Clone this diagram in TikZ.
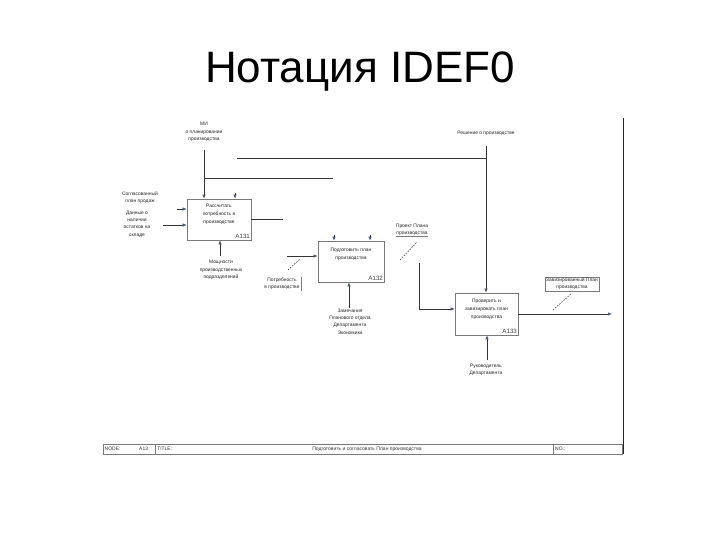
\documentclass[tikz,border=0pt]{standalone}
\usepackage{fontspec}
\setmainfont{Liberation Sans}
\usetikzlibrary{arrows.meta}
\definecolor{tipc}{HTML}{45557A}
\definecolor{boxc}{HTML}{7A7A7A}
\begin{document}
\begin{tikzpicture}[x=1pt,y=-1pt,
  func/.style={draw=boxc,line width=.6pt,minimum width=64pt,minimum height=41pt,
    inner sep=0pt,align=center,font=\fontsize{4.9}{8}\selectfont,text=black!85},
  num/.style={anchor=south east,inner sep=1.2pt,font=\fontsize{6.2}{7}\selectfont,text=black!75},
  lbl/.style={inner sep=0pt,align=center,font=\fontsize{4.9}{7.3}\selectfont,text=black!85},
  wire/.style={draw=black!80,line width=.55pt},
  flow/.style={wire,-{Latex[length=4pt,width=3.2pt,color=tipc]}},
  squig/.style={draw=black!80,line width=.5pt,dash pattern=on 1.6pt off 1.2pt},
  cell/.style={inner sep=0pt,anchor=west,font=\fontsize{5}{6}\selectfont,text=black!80}]
\useasboundingbox (0,0) rectangle (720,540);
\node[anchor=base,font=\fontsize{44}{50}\selectfont] (title) at (360,83) {Нотация IDEF0};
\node[func] (a131) at (219,219.5) {Рассчитать\\потребность в\\производстве\\[3pt]};
\node[num] (n131) at (a131.south east) {A131};
\node[func,minimum width=66pt] (a132) at (351,261.5) {Подготовить план\\производства\\[8pt]};
\node[num] (n132) at (a132.south east) {A132};
\node[func,minimum width=63pt,minimum height=42pt] (a133) at (486.5,314) {Проверить и\\завизировать план\\производства\\[3pt]};
\node[num] (n133) at (a133.south east) {A133};
\node[lbl] (mi) at (204,132) {МИ\\о планировании\\производства};
\node[lbl] (resh) at (486,133) {Решение о производстве};
\node[lbl] (plan) at (140,198) {Согласованный\\план продаж};
\node[lbl] (ost) at (137,224) {Данные о\\наличии\\остатков на\\складе};
\node[lbl] (mosch) at (221,270) {Мощности\\производственных\\подразделений};
\node[lbl] (potr) at (282,283.5) {Потребность\\в производстве};
\node[lbl] (proj) at (412,230) {Проект Плана\\производства};
\node[lbl] (zam) at (350,321.5) {Замечания\\Планового отдела\\Департамента\\Экономики};
\node[lbl] (ruk) at (486,369.5) {Руководитель\\Департамента};
\node[lbl,draw=boxc,line width=.4pt,inner sep=1.2pt] (zav) at (572,284) {Завизированный План\\производства};
\draw[boxc,line width=.4pt] (potr.north east) ++(1.5,0) -- ++(0,14);
\draw[boxc,line width=.4pt] (proj.south west) -- (proj.south east);
\coordinate (m0) at (204,150);
\coordinate (t1) at (333,178);
\coordinate (r0) at (486,146);
\coordinate (t2) at (237,158);
\coordinate (s1) at (235,193);
\coordinate (i1) at (177,209);
\coordinate (i2) at (163,225);
\coordinate (o1) at (283,219);
\coordinate (m1) at (220,256);
\coordinate (i3) at (287,256);
\coordinate (s2) at (334,235);
\coordinate (s3) at (370,235);
\coordinate (m2) at (349,308);
\coordinate (p0) at (419,263);
\coordinate (p1) at (419,309);
\coordinate (o2) at (612,314);
\coordinate (m3) at (487,360);
\draw[flow] (m0) -- (m0 |- a131.north);
\draw[wire] (m0 |- t1) -- (t1);
\draw[flow] (r0) -- (r0 |- a133.north);
\draw[wire] (t2) -- (t2 -| r0);
\draw[flow] (s1) -- (s1 |- a131.north);
\draw[flow] (i1) -- (i1 -| a131.west);
\draw[flow] (i2) -- (i2 -| a131.west);
\draw[wire] (o1 -| a131.east) -- (o1);
\draw[flow] (m1) -- (m1 |- a131.south);
\draw[flow] (i3) -- (i3 -| a132.west);
\draw[flow] (s2) -- (s2 |- a132.north);
\draw[flow] (s3) -- (s3 |- a132.north);
\draw[flow] (m2) -- (m2 |- a132.south);
\draw[flow] (p0) -- (p1) -- (p1 -| a133.west);
\draw[flow] (a133.east) -- (o2);
\draw[flow] (m3) -- (m3 |- a133.south);
\draw[squig] (288,270) -- (300,259);
\draw[squig] (400,260) -- (417,242);
\draw[squig] (553,310) -- (572,293);
\draw[black!85,line width=.9pt] (623,118) -- (623,454);
\draw[boxc,line width=.5pt] (103,444) rectangle (622,454);
\draw[boxc,line width=.5pt] (155,444) -- (155,454) (553,444) -- (553,454);
\node[cell] (node) at (104.5,449) {NODE:};
\node[cell] (nodeno) at (139,449) {A13};
\node[cell] (ttl) at (157,449) {TITLE:};
\node[cell,anchor=center] (ttltext) at (367,449) {Подготовить и согласовать План производства};
\node[cell] (no) at (555,449) {NO.:};
\end{tikzpicture}
\end{document}
